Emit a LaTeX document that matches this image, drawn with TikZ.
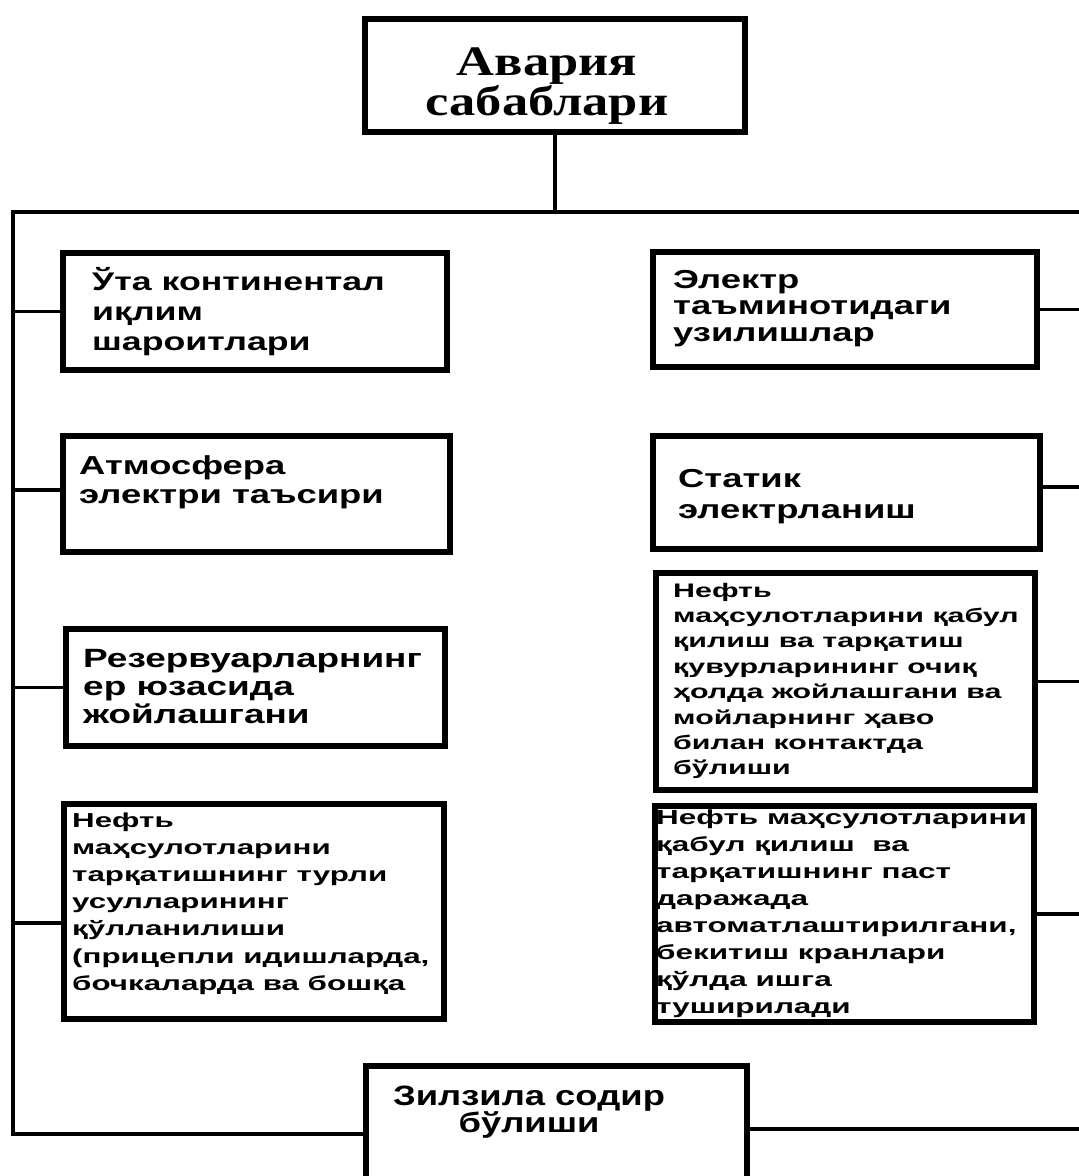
\documentclass[tikz,border=0pt]{standalone}
\usepackage{fontspec}
\newfontfamily\causefont[FakeStretch=1.4]{Liberation Sans}
\newfontfamily\notefont[FakeStretch=1.55]{Liberation Sans}
\newfontfamily\quakefont[FakeStretch=1.3]{Liberation Sans}
\newfontfamily\titlefont[FakeStretch=1.25]{Liberation Serif}
\usepackage{tikz}

\newcommand{\causelines}[3]{\parbox[t]{420pt}{\fontsize{#1}{#2}\selectfont\causefont\bfseries #3}}
\newcommand{\notelines}[3]{\parbox[t]{420pt}{\fontsize{#1}{#2}\selectfont\notefont\bfseries #3}}

\begin{document}
\begin{tikzpicture}[
    x=1pt,y=-1pt,
    cause/.style={
        draw,
        line width=6pt,
        anchor=north west,
        inner sep=0pt
      },
    causetext/.style={
        anchor=base west,
        inner sep=0pt
      },
    wire/.style={
        line width=3.5pt
      }
  ]
  \clip (0,0) rectangle (1079,1176);

  % top box
  \node[cause,minimum width=380pt,minimum height=113pt] (causes) at (362,16) {};
  \node[anchor=base,inner sep=0pt] (causestxt) at (547,75)
    {\parbox[t]{380pt}{\centering\fontsize{42}{40}\selectfont\titlefont\bfseries Авария\\сабаблари}};

  % left column
  \node[cause,minimum width=384pt,minimum height=117pt] (climate) at (60,250) {};
  \node[cause,minimum width=387pt,minimum height=116pt] (lightning) at (60,433) {};
  \node[cause,minimum width=379pt,minimum height=117pt] (tanks) at (63,626) {};
  \node[cause,minimum width=380pt,minimum height=215pt] (delivery) at (61,801) {};

  % right column
  \node[cause,minimum width=384pt,minimum height=115pt] (power) at (650,249) {};
  \node[cause,minimum width=387pt,minimum height=113pt] (static) at (650,433) {};
  \node[cause,minimum width=379pt,minimum height=217pt] (pipes) at (653,570) {};
  \node[cause,minimum width=379pt,minimum height=216pt] (valves) at (652,803) {};

  % bottom box
  \node[cause,minimum width=381pt,minimum height=141pt] (quake) at (363,1063) {};

  % texts
  \node[causetext] (climatetxt) at (92,290)
    {\causelines{25.5}{30}{Ўта континентал\\иқлим\\шароитлари}};
  \node[causetext] (lightningtxt) at (79,474)
    {\causelines{26}{29}{Атмосфера\\электри таъсири}};
  \node[causetext] (tankstxt) at (83,667)
    {\causelines{26.4}{28}{Резервуарларнинг\\ер юзасида\\жойлашгани}};
  \node[causetext] (deliverytxt) at (72,827)
    {\notelines{20.2}{27.2}{Нефть\\маҳсулотларини\\тарқатишнинг турли\\усулларининг\\қўлланилиши\\(прицепли идишларда,\\бочкаларда ва бошқа}};
  \node[causetext] (powertxt) at (673,288)
    {\causelines{26}{26.5}{Электр\\таъминотидаги\\узилишлар}};
  \node[causetext] (statictxt) at (678,487)
    {\causelines{26}{31}{Статик\\электрланиш}};
  \node[causetext] (pipestxt) at (673,597)
    {\notelines{19.6}{25.4}{Нефть\\маҳсулотларини қабул\\қилиш ва тарқатиш\\қувурларининг очиқ\\ҳолда жойлашгани ва\\мойларнинг ҳаво\\билан контактда\\бўлиши}};
  \node[causetext] (valvestxt) at (656,824)
    {\notelines{20.3}{27}{Нефть маҳсулотларини\\қабул қилиш\ \ ва\\тарқатишнинг паст\\даражада\\автоматлаштирилгани,\\бекитиш кранлари\\қўлда ишга\\туширилади}};
  \node[anchor=base,inner sep=0pt] (quaketxt) at (529,1105)
    {\parbox[t]{300pt}{\centering\fontsize{28}{27}\selectfont\quakefont\bfseries Зилзила содир\\бўлиши}};

  % bus and spine
  \coordinate (busL) at (13,212);
  \coordinate (busR) at (1083,212);
  \coordinate (spineB) at (13,1134);
  \coordinate (spineR) at (1083,1129);
  \draw[wire] (causes.south) -- (causes.south |- busL);
  \draw[wire] (busR) -- (busL) -- (spineB) -- (quake.west |- spineB);
  \draw[wire] (quake.east |- spineR) -- (spineR);

  % left connectors
  \draw[wire] (climate.west) -- (climate.west -| busL);
  \draw[wire] ([yshift=4pt]lightning.west) -- ([yshift=4pt]lightning.west -| busL);
  \draw[wire] (tanks.west) -- (tanks.west -| busL);
  \draw[wire] ([yshift=-11.5pt]delivery.west) -- ([yshift=-11.5pt]delivery.west -| busL);

  % right connectors
  \draw[wire] (power.east) -- (power.east -| busR);
  \draw[wire] ([yshift=5.5pt]static.east) -- ([yshift=5.5pt]static.east -| busR);
  \draw[wire] (pipes.east) -- (pipes.east -| busR);
  \draw[wire] (valves.east) -- (valves.east -| busR);
\end{tikzpicture}
\end{document}
